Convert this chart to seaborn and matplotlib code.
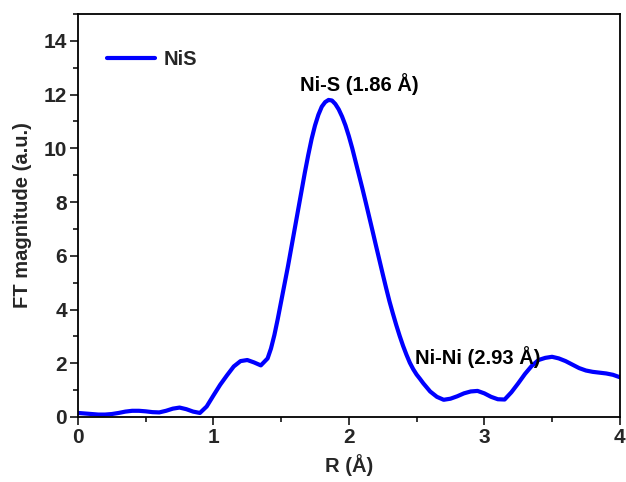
import numpy as np
import pandas as pd
import matplotlib
matplotlib.use("Agg")
import matplotlib.pyplot as plt
from matplotlib.ticker import MultipleLocator
import seaborn as sns

# Fourier-transformed EXAFS magnitude of NiS (finer sampling across the main shell)
r_values = [
    0.00, 0.05, 0.10, 0.15, 0.20, 0.25, 0.30, 0.35, 0.40, 0.45,
    0.50, 0.55, 0.60, 0.65, 0.70, 0.75, 0.80, 0.85, 0.90, 0.95,
    1.00, 1.05, 1.10, 1.15, 1.20, 1.25, 1.30, 1.35,
    1.400, 1.425, 1.450, 1.475, 1.500, 1.525, 1.550, 1.575, 1.600, 1.625,
    1.650, 1.675, 1.700, 1.725, 1.750, 1.775, 1.800, 1.825, 1.850, 1.875,
    1.900, 1.925, 1.950, 1.975, 2.000, 2.025, 2.050, 2.075, 2.100, 2.125,
    2.150, 2.175, 2.200, 2.225, 2.250, 2.275, 2.300, 2.325, 2.350, 2.375,
    2.400, 2.425, 2.450, 2.475, 2.500, 2.525, 2.550, 2.575, 2.600,
    2.65, 2.70, 2.75, 2.80, 2.85, 2.90, 2.95,
    3.00, 3.05, 3.10, 3.15, 3.20, 3.25, 3.30, 3.35, 3.40, 3.45,
    3.50, 3.55, 3.60, 3.65, 3.70, 3.75, 3.80, 3.85, 3.90, 3.95,
    4.00,
]
ft_magnitude = [
    0.15, 0.13, 0.11, 0.09, 0.09, 0.11, 0.15, 0.20, 0.23, 0.23,
    0.21, 0.18, 0.17, 0.23, 0.31, 0.35, 0.29, 0.20, 0.15, 0.39,
    0.80, 1.20, 1.55, 1.88, 2.08, 2.12, 2.03, 1.92,
    2.18, 2.55, 3.05, 3.65, 4.30, 4.95, 5.60, 6.30, 7.00, 7.70,
    8.40, 9.10, 9.75, 10.35, 10.85, 11.25, 11.55, 11.72, 11.80, 11.78,
    11.65, 11.45, 11.18, 10.85, 10.45, 10.00, 9.50, 9.00, 8.50, 7.98,
    7.45, 6.92, 6.38, 5.85, 5.32, 4.80, 4.30, 3.85, 3.42, 3.02,
    2.65, 2.32, 2.02, 1.78, 1.58, 1.42, 1.25, 1.10, 0.95,
    0.75, 0.64, 0.68, 0.77, 0.88, 0.95, 0.97,
    0.88, 0.75, 0.66, 0.65, 0.92, 1.25, 1.60, 1.90, 2.12, 2.20,
    2.24, 2.18, 2.08, 1.95, 1.82, 1.73, 1.68, 1.65, 1.62, 1.57,
    1.48,
]
sample_name = "NiS"

peak_labels = ["Ni-S (1.86 Å)", "Ni-Ni (2.93 Å)"]
peak_label_pos = [(2.08, 12.4), (2.95, 2.23)]

x_ticks = [0, 1, 2, 3, 4]
y_ticks = [0, 2, 4, 6, 8, 10, 12, 14]

df = pd.DataFrame({"R": r_values, "FT": ft_magnitude, "sample": sample_name})

sns.set_theme(style="ticks")
plt.rcParams["font.family"] = ["Liberation Sans", "DejaVu Sans"]
plt.rcParams["font.weight"] = "bold"
plt.rcParams["axes.labelweight"] = "bold"

fig = plt.figure(figsize=(6.26, 4.82), dpi=100)
ax = fig.add_axes([0.1246, 0.1349, 0.8654, 0.8361])

sns.lineplot(data=df, x="R", y="FT", hue="sample", palette=["#0000FF"],
             linewidth=3.0, ax=ax, solid_joinstyle="round",
             solid_capstyle="round")

ax.set_xlim(0, 4)
ax.set_ylim(0, 15)
ax.set_xticks(x_ticks)
ax.set_yticks(y_ticks)
ax.xaxis.set_minor_locator(MultipleLocator(0.5))
ax.yaxis.set_minor_locator(MultipleLocator(1))
ax.tick_params(which="major", direction="out", length=6, width=1.3,
               labelsize=15, pad=2, top=False, right=False)
ax.tick_params(which="minor", direction="out", length=3.5, width=1.3,
               top=False, right=False)
for lbl in ax.get_xticklabels() + ax.get_yticklabels():
    lbl.set_fontweight("bold")

for side in ["left", "right", "top", "bottom"]:
    ax.spines[side].set_visible(True)
    ax.spines[side].set_linewidth(1.3)
    ax.spines[side].set_color("black")

ax.set_xlabel("R (Å)", fontsize=14.5, fontweight="bold", labelpad=5)
ax.set_ylabel("FT magnitude (a.u.)", fontsize=14.5, fontweight="bold", labelpad=8)

for text, (tx, ty) in zip(peak_labels, peak_label_pos):
    ax.text(tx, ty, text, ha="center", va="center", fontsize=14.5,
            fontweight="bold", color="black")

leg = ax.legend(loc="center left", frameon=False, fontsize=14.5,
                handlelength=2.4, handletextpad=0.4, borderpad=0,
                bbox_to_anchor=(0.0535, 0.886), borderaxespad=0)
for t in leg.get_texts():
    t.set_fontweight("bold")

fig.savefig("out.png", dpi=100, facecolor="white")
